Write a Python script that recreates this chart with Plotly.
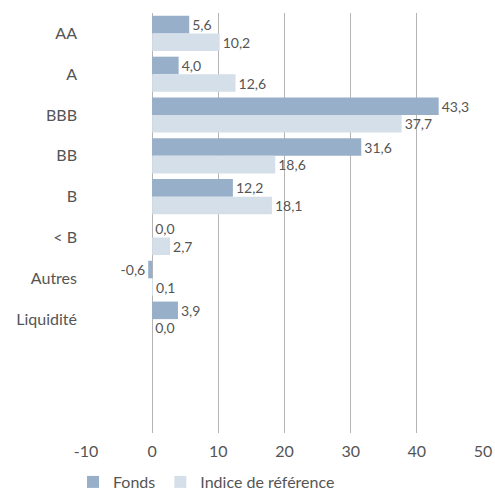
import plotly.graph_objects as go

categories = ["AA", "A", "BBB", "BB", "B", "< B", "Autres", "Liquidité"]
fonds = [5.6, 4.0, 43.3, 31.6, 12.2, 0.0, -0.6, 3.9]
indice = [10.2, 12.6, 37.7, 18.6, 18.1, 2.7, 0.1, 0.0]
x_ticks = [-10, 0, 10, 20, 30, 40, 50]

def fmt(v):
    return f"{v:.1f}".replace(".", ",")

FONT = "Lato"
TXT = "#555555"

fig = go.Figure()
fig.add_trace(go.Bar(
    y=categories, x=fonds, orientation="h", name="Fonds",
    marker=dict(color="#98AFC9", line=dict(width=0)),
    text=[fmt(v) for v in fonds], textposition="outside",
    textfont=dict(family=FONT, size=14, color=TXT), cliponaxis=False,
))
fig.add_trace(go.Bar(
    y=categories, x=indice, orientation="h", name="Indice de référence",
    marker=dict(color="#D5DFE9", line=dict(width=0)),
    text=[fmt(v) for v in indice], textposition="outside",
    textfont=dict(family=FONT, size=14, color=TXT), cliponaxis=False,
))

fig.update_layout(
    width=495, height=490,
    margin=dict(l=85.5, r=12, t=13, b=57, autoexpand=False),
    barmode="group", bargap=0.14, bargroupgap=0,
    plot_bgcolor="white", paper_bgcolor="white",
    font=dict(family=FONT, size=16, color=TXT),
    showlegend=True,
    legend=dict(orientation="h", x=73 / 495, xref="container", xanchor="left",
                y=8 / 490, yref="container", yanchor="middle",
                font=dict(family=FONT, size=16, color=TXT), traceorder="normal",
                itemwidth=30),
    uniformtext=dict(mode=False),
)
fig.update_xaxes(
    range=[-10, 50], tickvals=x_ticks, ticktext=[str(t) for t in x_ticks],
    showgrid=True, gridcolor="#B4B4B4", gridwidth=1, zeroline=False,
    showline=False, ticks="", automargin=False, ticklabelstandoff=7,
    tickfont=dict(family=FONT, size=16, color=TXT),
)
fig.update_yaxes(
    type="category", categoryorder="array", categoryarray=categories,
    range=[9.79, -0.5], showgrid=False, zeroline=False, showline=False,
    ticks="", ticklabelstandoff=8, automargin=False,
    tickfont=dict(family=FONT, size=16, color=TXT),
)

fig.write_html("out.html")
